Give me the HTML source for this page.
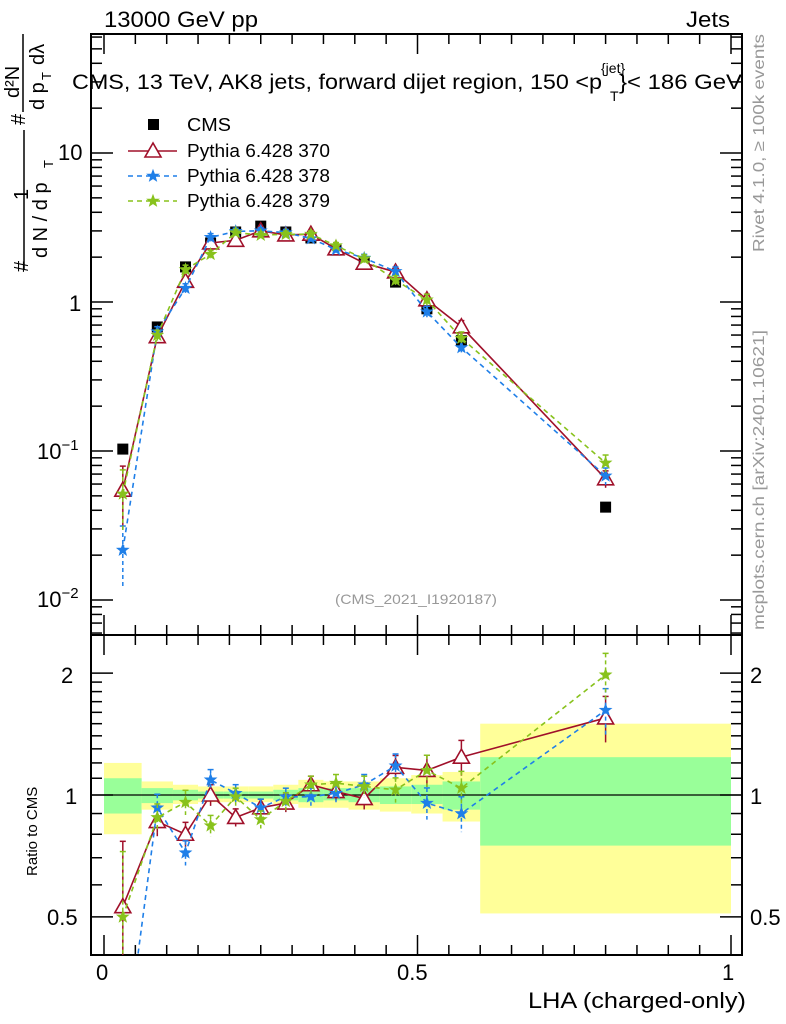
<!DOCTYPE html>
<html><head><meta charset="utf-8"><style>
html,body{margin:0;padding:0;background:#fff;overflow:hidden;width:786px;height:1024px;}
svg{display:block;font-family:"Liberation Sans","DejaVu Sans",sans-serif;}
</style></head><body>
<svg id="c" width="786" height="1024" viewBox="0 0 786 1024"></svg>
<script>
const xCenters=[0.03,0.085,0.13,0.17,0.21,0.25,0.29,0.33,0.37,0.415,0.465,0.515,0.57,0.8];
const binEdges=[0,0.06,0.11,0.15,0.19,0.23,0.27,0.31,0.35,0.39,0.44,0.49,0.54,0.6,1.0];
const cmsValues=[0.103,0.68,1.72,2.49,2.95,3.23,2.95,2.69,2.23,1.86,1.36,0.90,0.55,0.042];
const ratio370=[0.53,0.86,0.80,1.0,0.88,0.93,0.955,1.06,1.02,0.98,1.17,1.15,1.24,1.55];
const ratio378=[0.21,0.93,0.72,1.09,1.01,0.93,0.99,0.99,1.01,1.06,1.18,0.955,0.90,1.62];
const ratio379=[0.50,0.88,0.96,0.84,0.99,0.87,0.965,1.06,1.07,1.05,1.03,1.15,1.04,1.98];
const relErr=[0.45,0.08,0.07,0.06,0.05,0.05,0.05,0.05,0.05,0.06,0.07,0.09,0.10,0.13];
const yellowHi=[1.2,1.08,1.06,1.05,1.05,1.05,1.06,1.09,1.08,1.08,1.10,1.12,1.14,1.50];
const yellowLo=[0.8,0.92,0.95,0.96,0.96,0.96,0.95,0.93,0.93,0.92,0.91,0.90,0.86,0.51];
const greenHi=[1.1,1.04,1.03,1.02,1.02,1.02,1.03,1.04,1.04,1.04,1.05,1.06,1.08,1.24];
const greenLo=[0.9,0.955,0.97,0.98,0.98,0.98,0.97,0.96,0.97,0.96,0.95,0.95,0.92,0.75];
const mainTicks=["10","1"];
const ratioTicks=["2","1","0.5"];
const xTicks=["0","0.5","1"];

const svg=document.getElementById('c');
const NS='http://www.w3.org/2000/svg';
const L=91,R=742,T1=34,B1=635,T2=635,B2=955;
const sx=v=>104+627*v;
const sy=v=>302-149*Math.log10(v);
const sr=v=>795-405*Math.log10(v);
function el(tag,attrs,parent){const e=document.createElementNS(NS,tag);for(const k in attrs)e.setAttribute(k,attrs[k]);(parent||svg).appendChild(e);return e;}
function txt(s,x,y,size,attrs,parent){const a=Object.assign({x:x,y:y,'font-size':size},attrs||{});if(a.textLength)a.lengthAdjust='spacingAndGlyphs';const e=el('text',a,parent);e.textContent=s;return e;}

const defs=el('defs',{});
const c1=el('clipPath',{id:'cp1'},defs);el('rect',{x:L,y:T1,width:R-L,height:B1-T1},c1);
const c2=el('clipPath',{id:'cp2'},defs);el('rect',{x:L,y:T2,width:R-L,height:B2-T2},c2);

const gb=el('g',{'clip-path':'url(#cp2)'});


for(let i=0;i<xCenters.length;i++){
  const x0=sx(binEdges[i]),x1=sx(binEdges[i+1]);
  const y=el('rect',{x:x0,y:sr(yellowHi[i]),width:x1-x0,height:sr(yellowLo[i])-sr(yellowHi[i]),fill:'#ffff99'},gb);
  
  
  const g=el('rect',{x:x0,y:sr(greenHi[i]),width:x1-x0,height:sr(greenLo[i])-sr(greenHi[i]),fill:'#99ff99'},gb);
  
  
}
el('line',{x1:L,x2:R,y1:sr(1),y2:sr(1),stroke:'#000','stroke-width':1.2});

const f1=el('rect',{x:L,y:T1,width:R-L,height:B1-T1,fill:'none',stroke:'#000','stroke-width':2});


const f2=el('rect',{x:L,y:T2,width:R-L,height:B2-T2,fill:'none',stroke:'#000','stroke-width':2});



for(let d=-3;d<=1;d++){for(let m=1;m<10;m++){const v=m*Math.pow(10,d);const y=sy(v);if(y<T1||y>B1)continue;const len=m==1?22:11;
 el('line',{x1:L,x2:L+len,y1:y,y2:y,stroke:'#000','stroke-width':1.5});el('line',{x1:R,x2:R-len,y1:y,y2:y,stroke:'#000','stroke-width':1.5});}}
txt(mainTicks[0],58,160,22);txt(mainTicks[1],69,311,22);
let t=txt('10',37,459,22);const ts=el('tspan',{dy:-9,'font-size':15},t);ts.textContent='−1';
t=txt('10',37,607,22);const ts2=el('tspan',{dy:-9,'font-size':15},t);ts2.textContent='−2';
[0.5,0.6,0.7,0.8,0.9,1,2].forEach(v=>{const y=sr(v);const len=(v==1||v==2||v==0.5)?22:11;
 el('line',{x1:L,x2:L+len,y1:y,y2:y,stroke:'#000','stroke-width':1.5});el('line',{x1:R,x2:R-len,y1:y,y2:y,stroke:'#000','stroke-width':1.5});});
for(let v=1.1;v<2;v+=0.1){const y=sr(v);el('line',{x1:L,x2:L+11,y1:y,y2:y,stroke:'#000','stroke-width':1.5});el('line',{x1:R,x2:R-11,y1:y,y2:y,stroke:'#000','stroke-width':1.5});}
txt(ratioTicks[0],61,683,22);txt(ratioTicks[1],65,804,22);txt(ratioTicks[2],47,925,22);
txt(ratioTicks[0],750,683,22);txt(ratioTicks[1],750,804,22);txt(ratioTicks[2],750,925,22);
for(let i=0;i<=20;i++){const v=i*0.05;const x=sx(v);const len=i%10==0?20:10;
 [[B1,-1],[T1,1],[B2,-1],[T2,1]].forEach(([y,s])=>el('line',{x1:x,x2:x,y1:y,y2:y+s*len,stroke:'#000','stroke-width':1.5}));}
txt(xTicks[0],96,980,22);txt(xTicks[1],397,980,22);txt(xTicks[2],722,980,22);

const series=[
 {name:'pythia-370',r:ratio370,color:'#a0102a',dash:'',mk:'tri'},
 {name:'pythia-378',r:ratio378,color:'#1f7fe8',dash:'5,4',mk:'star'},
 {name:'pythia-379',r:ratio379,color:'#88c21c',dash:'5,4',mk:'star'}];
function marker(type,x,y,color,g){
 if(type=='tri')return el('polygon',{points:`${x},${y-8} ${x-8},${y+6} ${x+8},${y+6}`,fill:'#fff',stroke:color,'stroke-width':1.6},g);
 let p=[];for(let k=0;k<10;k++){const a=-Math.PI/2+k*Math.PI/5;const rr=k%2?2.4:5.8;p.push((x+rr*Math.cos(a)).toFixed(1)+','+(y+rr*Math.sin(a)).toFixed(1));}
 return el('polygon',{points:p.join(' '),fill:color,stroke:color,'stroke-width':1},g);
}
const gm=el('g',{'clip-path':'url(#cp1)'});
const gr=el('g',{'clip-path':'url(#cp2)'});
cmsValues.forEach((v,i)=>{const m=el('rect',{x:sx(xCenters[i])-5.5,y:sy(v)-5.5,width:11,height:11,fill:'#000'},gm);
 
 });
series.forEach(s=>{
 const vals=s.r.map((r,i)=>r*cmsValues[i]);
 const pm=el('polyline',{points:vals.map((v,i)=>sx(xCenters[i])+','+sy(v)).join(' '),fill:'none',stroke:s.color,'stroke-width':1.6,'stroke-dasharray':s.dash},gm);
 
 
 const pr=el('polyline',{points:s.r.map((v,i)=>sx(xCenters[i])+','+sr(v)).join(' '),fill:'none',stroke:s.color,'stroke-width':1.6,'stroke-dasharray':s.dash},gr);
 
 
 vals.forEach((v,i)=>{const x=sx(xCenters[i]);const e=relErr[i];
  el('line',{x1:x,x2:x,y1:sy(v*(1+e)),y2:sy(Math.max(v*(1-e),1e-4)),stroke:s.color,'stroke-width':1.5,'stroke-dasharray':s.dash?'4,3':''},gm);
  el('line',{x1:x,x2:x,y1:sr(s.r[i]*(1+e)),y2:sr(Math.max(s.r[i]*(1-e),0.01)),stroke:s.color,'stroke-width':1.5,'stroke-dasharray':s.dash?'4,3':''},gr);
  [[gm,sy(v*(1+e))],[gr,sr(s.r[i]*(1+e))]].forEach(([g,y])=>el('line',{x1:x-3,x2:x+3,y1:y,y2:y,stroke:s.color,'stroke-width':1.5},g));
  const mk=marker(s.mk,x,sy(v),s.color,gm);
  
  
  const mr=marker(s.mk,x,sr(s.r[i]),s.color,gr);
  
  
 });
});

const lg=el('g',{});


el('rect',{x:148,y:119,width:11,height:11,fill:'#000'},lg);
const lc=txt('CMS',187,131,18,{textLength:44},lg);


const labs=['Pythia 6.428 370','Pythia 6.428 378','Pythia 6.428 379'];
series.forEach((s,i)=>{const y=151+25*i;
 el('line',{x1:128,x2:177,y1:y,y2:y,stroke:s.color,'stroke-width':1.6,'stroke-dasharray':s.dash},lg);
 marker(s.mk,153,y,s.color,lg);
 const tt=txt(labs[i],187,y+6,18,{textLength:143},lg);
 
 
});

const bl=txt('13000 GeV pp',104,27,22,{textLength:154});


const al=txt('Jets',686,27,22,{textLength:44});


const tl=txt('CMS, 13 TeV, AK8 jets, forward dijet region, 150 <p',72,89,21,{textLength:530});


txt('{jet}',601,73,14);txt('T',610,101,14);txt('}< 186 GeV',619,89,21,{textLength:123});
txt('(CMS_2021_I1920187)',335,604,14,{fill:'#999',textLength:162});
const xt=txt('LHA (charged-only)',528,1008,22,{textLength:218});


const rt=txt('Ratio to CMS',0,0,15,{transform:'translate(37,876) rotate(-90)'});


const side=txt('Rivet 4.1.0, ≥ 100k events',0,0,16,{fill:'#999',transform:'translate(764,252) rotate(-90)',textLength:218});


txt('mcplots.cern.ch [arXiv:2401.10621]',0,0,16,{fill:'#999',transform:'translate(764,630) rotate(-90)',textLength:300});
const yt=el('g',{});


txt('#',0,0,20,{transform:'translate(28,272) rotate(-90)'},yt);
txt('1',0,0,20,{transform:'translate(28,200) rotate(-90)'},yt);
el('line',{x1:24,x2:24,y1:130,y2:270,stroke:'#000','stroke-width':1.5},yt);
txt('d N / d p',0,0,20,{transform:'translate(47,258) rotate(-90)'},yt);
txt('T',0,0,13,{transform:'translate(53,168) rotate(-90)'},yt);
txt('#',0,0,20,{transform:'translate(25,125) rotate(-90)'},yt);
txt('d²N',0,0,20,{transform:'translate(19,98) rotate(-90)'},yt);
el('line',{x1:23,x2:23,y1:34,y2:112,stroke:'#000','stroke-width':1.5},yt);
txt('d p',0,0,20,{transform:'translate(44,110) rotate(-90)'},yt);
txt('T',0,0,13,{transform:'translate(51,80) rotate(-90)'},yt);
txt('dλ',0,0,20,{transform:'translate(44,65) rotate(-90)'},yt);
</script>
</body></html>
